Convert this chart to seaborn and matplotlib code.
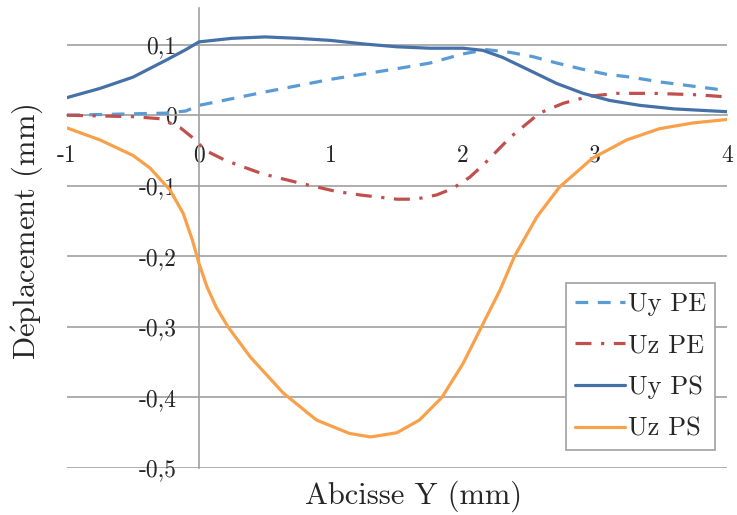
import pandas as pd
import matplotlib
matplotlib.use('Agg')
import matplotlib.pyplot as plt
import seaborn as sns

# values (Abcisse Y in mm, displacement in mm)
x_uy_pe = [-1, -0.5, -0.25, -0.1, 0, 0.5, 1, 1.5, 1.75, 2.0, 2.18, 2.36,
           2.53, 2.71, 2.91, 3.09, 3.27, 3.5, 3.75, 4]
uy_pe = [0.0, 0.002, 0.003, 0.006, 0.014, 0.033, 0.051, 0.066, 0.074, 0.087,
         0.093, 0.089, 0.083, 0.074, 0.065, 0.058, 0.054, 0.047, 0.041, 0.035]

x_uz_pe = [-1, -0.5, -0.29, -0.14, -0.04, 0.05, 0.2, 0.48, 0.76, 1.04, 1.22,
           1.5, 1.64, 1.8, 1.92, 2.05, 2.15, 2.36, 2.58, 2.76, 2.96, 3.17,
           3.45, 3.77, 4]
uz_pe = [0.0, -0.002, -0.005, -0.018, -0.033, -0.05, -0.064, -0.083, -0.096,
         -0.108, -0.113, -0.119, -0.119, -0.113, -0.104, -0.088, -0.071,
         -0.031, 0.003, 0.017, 0.027, 0.031, 0.031, 0.029, 0.026]

x_uy_ps = [-1, -0.75, -0.5, -0.25, -0.1, 0, 0.25, 0.5, 0.75, 1, 1.25, 1.5,
           1.75, 2, 2.15, 2.3, 2.5, 2.71, 2.91, 3.11, 3.34, 3.6, 4]
uy_ps = [0.025, 0.038, 0.054, 0.078, 0.093, 0.104, 0.109, 0.111, 0.109,
         0.106, 0.101, 0.097, 0.095, 0.095, 0.092, 0.082, 0.064, 0.045, 0.031,
         0.021, 0.014, 0.009, 0.005]

x_uz_ps = [-1, -0.75, -0.5, -0.37, -0.22, -0.12, -0.05, 0, 0.06, 0.13, 0.22,
           0.39, 0.64, 0.89, 1.14, 1.3, 1.5, 1.67, 1.84, 2.0, 2.14, 2.28, 2.39,
           2.56, 2.73, 2.98, 3.24, 3.49, 3.74, 4]
uz_ps = [-0.018, -0.035, -0.057, -0.075, -0.106, -0.139, -0.177, -0.21,
         -0.243, -0.272, -0.30, -0.343, -0.394, -0.432, -0.451, -0.456,
         -0.450, -0.432, -0.40, -0.352, -0.30, -0.248, -0.20, -0.144, -0.102,
         -0.061, -0.035, -0.019, -0.011, -0.006]

series = ['Uy PE', 'Uz PE', 'Uy PS', 'Uz PS']
colors = ['#5B9BD5', '#C0504D', '#4571A8', '#F9A04A']
x_ticks = [-1, 0, 1, 2, 3, 4]
x_ticklabels = ['-1', '0', '1', '2', '3', '4']
y_ticks = [-0.5, -0.4, -0.3, -0.2, -0.1, 0, 0.1]
y_ticklabels = ['-0,5', '-0,4', '-0,3', '-0,2', '-0,1', '0', '0,1']

frames = []
for name, xv, yv in zip(series, [x_uy_pe, x_uz_pe, x_uy_ps, x_uz_ps],
                        [uy_pe, uz_pe, uy_ps, uz_ps]):
    frames.append(pd.DataFrame({'x': xv, 'y': yv, 'serie': name}))
df = pd.concat(frames, ignore_index=True)

sns.set_style('white')
plt.rcParams['font.family'] = ['cmr10', 'DejaVu Serif']
plt.rcParams['mathtext.fontset'] = 'cm'
plt.rcParams['axes.unicode_minus'] = False

fig = plt.figure(figsize=(7.37, 5.15), dpi=100)
ax = fig.add_axes([67 / 737, 47 / 515, 660 / 737, 460 / 515])

grey = '#A0A0A0'
for yv in y_ticks:
    if yv != 0:
        ax.axhline(yv, color=grey, lw=1.2, zorder=0)

sns.lineplot(data=df, x='x', y='y', hue='serie', style='serie',
             hue_order=series, style_order=series,
             palette=dict(zip(series, colors)),
             dashes={'Uy PE': (4, 3), 'Uz PE': (5, 3, 1, 3),
                     'Uy PS': '', 'Uz PS': ''},
             sort=False, estimator=None, linewidth=2.3, ax=ax, zorder=3)

ax.set_xlim(-1, 4)
ax.set_ylim(-0.5, 0.152)

for s in ['top', 'right']:
    ax.spines[s].set_visible(False)
ax.spines['left'].set_position(('data', 0))
ax.spines['bottom'].set_position(('data', 0))
for s in ['left', 'bottom']:
    ax.spines[s].set_color(grey)
    ax.spines[s].set_linewidth(1.2)

ax.set_xticks(x_ticks)
ax.set_xticklabels(x_ticklabels)
ax.set_yticks(y_ticks)
ax.set_yticklabels(y_ticklabels)
ax.tick_params(axis='x', direction='out', length=4, width=1.2, color=grey,
               pad=17, labelsize=17)
ax.tick_params(axis='y', length=0, pad=16, labelsize=17)

ax.set_xlabel('')
ax.set_ylabel('')
fig.text(414 / 737, 1 - 496 / 515, 'Abcisse Y (mm)', ha='center', va='center',
         fontsize=22)
fig.text(27 / 737, 1 - 232 / 515, r'D$\acute{\mathrm{e}}$placement (mm)',
         ha='center', va='center', rotation=90, fontsize=22)

handles, labels = ax.get_legend_handles_labels()
leg = ax.legend(handles, labels, loc='lower right',
                bbox_to_anchor=(0.982, 0.039), borderaxespad=0, fontsize=19,
                frameon=True, fancybox=False, framealpha=1, edgecolor=grey,
                handlelength=1.9, handletextpad=0.1, labelspacing=0.68,
                borderpad=0.35)
leg.get_frame().set_linewidth(1.2)
for line in leg.get_lines():
    line.set_linewidth(2.3)

fig.savefig('out.png', dpi=100)
